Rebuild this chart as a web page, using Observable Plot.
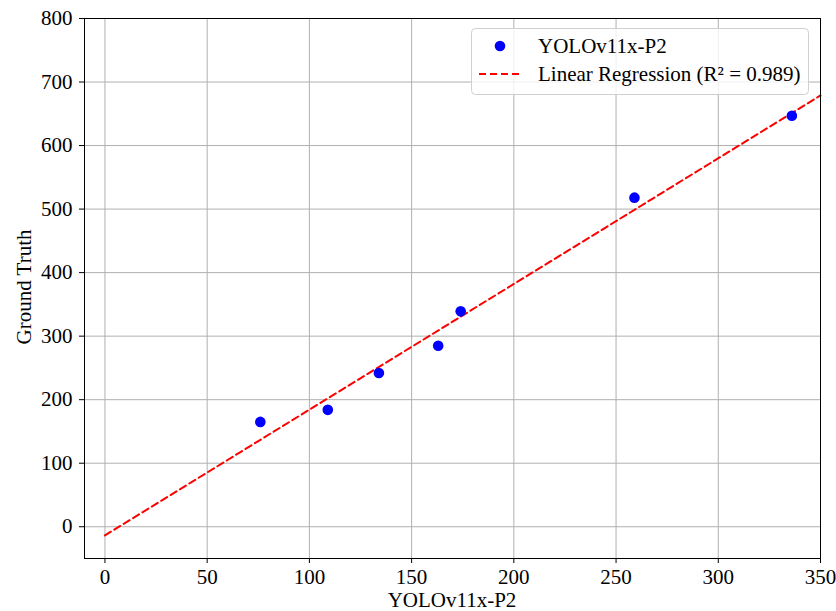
<!DOCTYPE html>
<html><head><meta charset="utf-8">
<script src="https://cdn.jsdelivr.net/npm/d3@7"></script>
<script src="https://cdn.jsdelivr.net/npm/@observablehq/plot@0.6"></script>
<style>
body{margin:0;background:#fff;}
</style>
</head><body><div id="chart"></div>
<script>
const predicted = [76, 109, 134, 163, 174, 259, 336];
const groundTruth = [165, 184, 242, 285, 339, 518, 647];
const xTicks = [0, 50, 100, 150, 200, 250, 300, 350];
const yTicks = [0, 100, 200, 300, 400, 500, 600, 700, 800];
const seriesLabel = "YOLOv11x-P2";
const xLabel = "YOLOv11x-P2";
const yLabel = "Ground Truth";
const fitLabel = "Linear Regression (R\u00b2 = 0.989)";
const lineRange = [0, 350];

const pts = predicted.map((x, i) => ({x, y: groundTruth[i]}));
const mx = d3.mean(predicted), my = d3.mean(groundTruth);
const slope = d3.sum(pts, d => (d.x - mx) * (d.y - my)) / d3.sum(pts, d => (d.x - mx) ** 2);
const intercept = my - slope * mx;
const fit = lineRange.map(x => ({x, y: intercept + slope * x}));

const FONT = "'Liberation Serif', 'Times New Roman', serif";
const FS = 21;
const W = 836, H = 611;
const plot = Plot.plot({
  width: W, height: H,
  marginLeft: 84, marginRight: 16, marginTop: 18, marginBottom: 53,
  x: {domain: [-10, 350], label: null},
  y: {domain: [-50, 800], label: null},
  marks: [
    Plot.gridX(xTicks, {stroke: "#b0b0b0", strokeOpacity: 1, strokeWidth: 1}),
    Plot.gridY(yTicks, {stroke: "#b0b0b0", strokeOpacity: 1, strokeWidth: 1}),
    Plot.axisX({ticks: xTicks, tickSize: 5, tickPadding: 6, fontSize: FS, label: null}),
    Plot.axisY({ticks: yTicks, tickSize: 5, tickPadding: 7, fontSize: FS, label: null}),
    Plot.line(fit, {x: "x", y: "y", stroke: "#ff0000", strokeWidth: 2, strokeDasharray: "7,4"}),
    Plot.dot(pts, {x: "x", y: "y", r: 5.3, fill: "#0000ff"}),
    Plot.frame({stroke: "#000", strokeWidth: 1})
  ]
});
document.getElementById("chart").appendChild(plot);

const svg = d3.select(plot);
svg.append("text").attr("x", 84 + (820 - 84) / 2).attr("y", 607)
  .attr("text-anchor", "middle").attr("font-size", FS).text(xLabel);
svg.append("text").attr("transform", "translate(31,287) rotate(-90)")
  .attr("text-anchor", "middle").attr("font-size", FS).text(yLabel);

const lg = svg.append("g").attr("text-anchor", "start");
lg.append("rect").attr("x", 471.5).attr("y", 28.5).attr("width", 337).attr("height", 66)
  .attr("rx", 4).attr("fill", "#fff").attr("fill-opacity", 0.8).attr("stroke", "#d0d0d0");
lg.append("circle").attr("cx", 500).attr("cy", 46).attr("r", 5.3).attr("fill", "#0000ff");
lg.append("text").attr("x", 538).attr("y", 53).attr("font-size", FS).attr("text-anchor", "start").text(seriesLabel);
lg.append("line").attr("x1", 479).attr("x2", 521).attr("y1", 74).attr("y2", 74)
  .attr("stroke", "#ff0000").attr("stroke-width", 2).attr("stroke-dasharray", "7,4");
lg.append("text").attr("x", 538).attr("y", 81).attr("font-size", FS).attr("text-anchor", "start").text(fitLabel);

svg.attr("font-family", FONT).style("font-family", FONT);
svg.selectAll("text, g").attr("font-family", FONT).style("font-family", FONT);
svg.selectAll("text").attr("fill", "#000").style("fill", "#000");
</script></body></html>
